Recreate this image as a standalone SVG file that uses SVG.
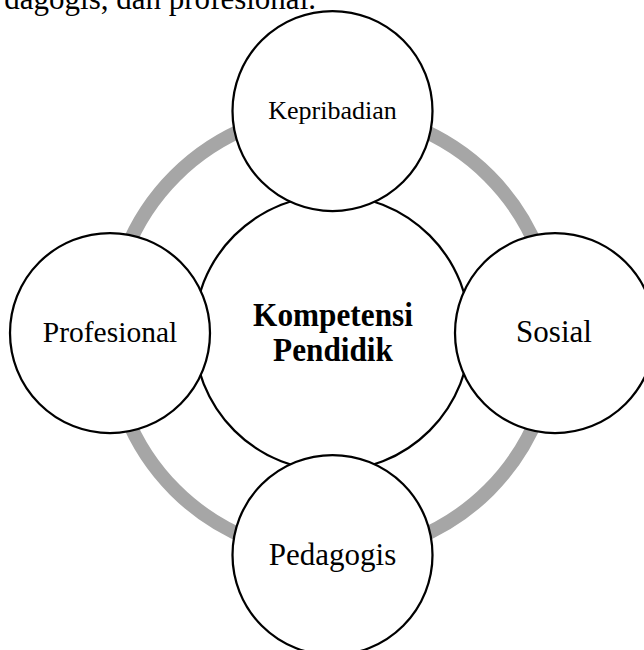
<svg xmlns="http://www.w3.org/2000/svg" width="644" height="650" viewBox="0 0 644 650">
  <style>
    .node { fill: #ffffff; stroke: #000000; stroke-width: 2.25; }
    .lbl { font-family: "Liberation Serif", "Times New Roman", serif; fill: #000000; text-anchor: middle; }
    .bold { font-weight: bold; }
    .ring { fill: none; stroke: #a6a6a6; stroke-width: 14; }
  </style>
  <rect x="0" y="0" width="644" height="650" fill="#ffffff"/>
  <text x="316" y="9" font-family="Liberation Serif, Times New Roman, serif" font-size="31" text-anchor="end" fill="#000000">dagogis, dan profesional.</text>
  <g id="connectors">
    <circle class="ring" cx="332" cy="333" r="222"/>
  </g>
  <g id="center">
    <circle class="node" cx="332" cy="333" r="138"/>
    <g transform="translate(333 0) scale(0.92 1)">
      <text class="lbl bold" x="0" y="326" font-size="34">Kompetensi</text>
      <text class="lbl bold" x="0" y="361" font-size="34">Pendidik</text>
    </g>
  </g>
  <g id="kepribadian">
    <circle class="node" cx="332.5" cy="111" r="100"/>
    <text class="lbl" x="332.5" y="119" font-size="26">Kepribadian</text>
  </g>
  <g id="profesional">
    <circle class="node" cx="110" cy="333" r="100"/>
    <text class="lbl" x="110" y="342" font-size="29.5">Profesional</text>
  </g>
  <g id="sosial">
    <circle class="node" cx="555" cy="333" r="100"/>
    <text class="lbl" x="554" y="342" font-size="31">Sosial</text>
  </g>
  <g id="pedagogis">
    <circle class="node" cx="332.5" cy="555" r="100"/>
    <text class="lbl" x="332.5" y="565" font-size="31">Pedagogis</text>
  </g>
</svg>
